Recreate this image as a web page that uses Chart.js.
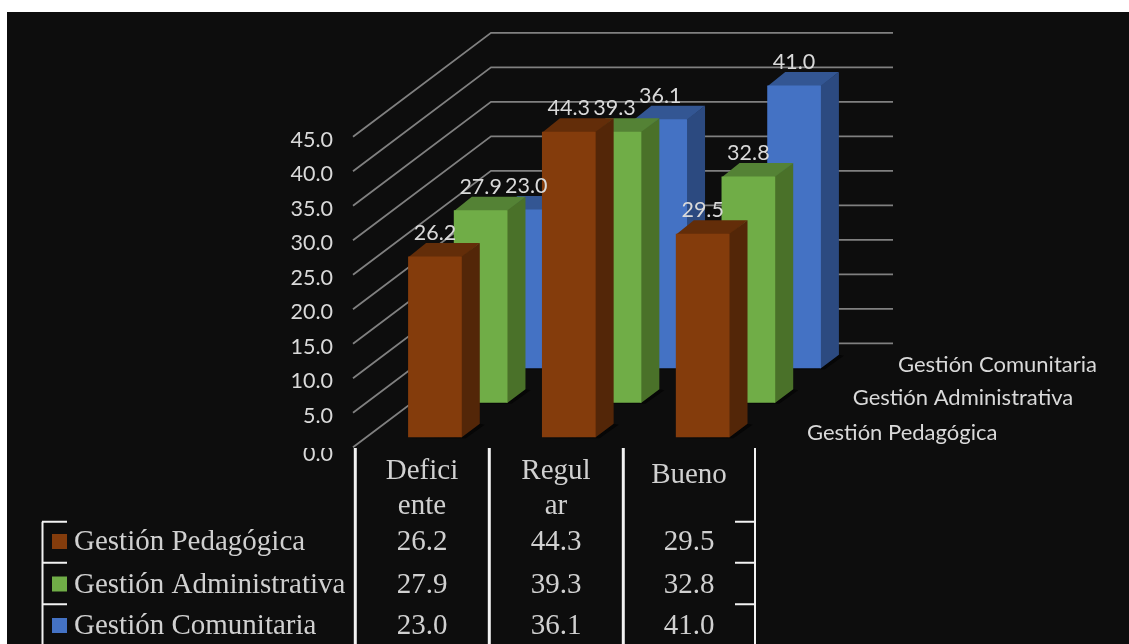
<!DOCTYPE html>
<html>
<head>
<meta charset="utf-8">
<style>
  html, body { margin: 0; padding: 0; background: #ffffff; overflow: hidden; }
  canvas { display: block; }
</style>
<script src="https://cdn.jsdelivr.net/npm/chart.js@4"></script>
</head>
<body>
<canvas id="chart" width="1129" height="644"></canvas>
<script>
// Data
const categories = [['Defici', 'ente'], ['Regul', 'ar'], ['Bueno']];
const seriesNames = ['Gestión Pedagógica', 'Gestión Administrativa', 'Gestión Comunitaria'];
const pedagogica = [26.2, 44.3, 29.5];
const administrativa = [27.9, 39.3, 32.8];
const comunitaria = [23.0, 36.1, 41.0];
const yTickStep = 5;
const yMax = 45;

// Colours: front, top and side face of the bars
const frontColors = ['#843C0C', '#70AD47', '#4472C4'];
const topColors = ['#632D09', '#548235', '#335693'];
const sideColors = ['#532608', '#4A7129', '#2C4A80'];

const textColor = '#D9D9D9';
const tableColor = '#D0D0D0';
const sansFont = 'Lato, "Open Sans", sans-serif';
const serifFont = '"Liberation Serif", serif';

// 3D look: every series sits one step further back
const stepX = 45.7, stepY = -34.5;
const sideX = 18, sideY = -13.5;

function poly(ctx, pts, color) {
    ctx.fillStyle = color;
    ctx.beginPath();
    pts.forEach((p, i) => i ? ctx.lineTo(p[0], p[1]) : ctx.moveTo(p[0], p[1]));
    ctx.closePath();
    ctx.fill();
}

const bars3d = {
    id: 'bars3d',
    beforeDraw(chart) {
        const ctx = chart.ctx;
        ctx.save();
        ctx.fillStyle = '#0D0D0D';
        ctx.fillRect(7, 12, 1122, 632);
        ctx.restore();
    },
    // walls and tick labels
    beforeDatasetsDraw(chart) {
        const ctx = chart.ctx, y = chart.scales.y;
        ctx.save();
        ctx.strokeStyle = '#808080';
        ctx.lineWidth = 1.8;
        y.ticks.forEach(t => {
            const py = y.getPixelForValue(t.value);
            ctx.beginPath();
            ctx.moveTo(353, py + 10);
            ctx.lineTo(491, py - 94);
            ctx.lineTo(893, py - 94);
            ctx.stroke();
        });
        ctx.fillStyle = textColor;
        ctx.font = '21.5px ' + sansFont;
        ctx.textAlign = 'right';
        ctx.textBaseline = 'alphabetic';
        y.ticks.forEach(t => {
            const py = y.getPixelForValue(t.value);
            if (t.value === 0) {
                // the 0.0 label is cut off at the top in the original
                ctx.save();
                ctx.beginPath();
                ctx.rect(280, 448, 80, 20);
                ctx.clip();
                ctx.fillText(t.value.toFixed(1), 333, py + 24);
                ctx.restore();
            } else {
                ctx.fillText(t.value.toFixed(1), 333, py + 20);
            }
        });
        ctx.restore();
    },
    beforeDatasetDraw(chart, args) {
        const ctx = chart.ctx, i = args.index;
        ctx.save();
        ctx.translate(stepX * i, stepY * i);
        args.meta.data.forEach(el => {
            const r = el.x + el.width / 2, l = el.x - el.width / 2;
            poly(ctx, [[r, el.base], [r + sideX, el.base + sideY], [r + sideX + 5, el.base + sideY + 1], [r + 4, el.base + 1], [l, el.base + 1]], '#060606');
            // faces reach a pixel under the front rectangle so no seam shows
            poly(ctx, [[l, el.y + 1], [r, el.y + 1], [r + sideX, el.y + sideY], [l + sideX, el.y + sideY]], topColors[i]);
            poly(ctx, [[r - 1, el.y], [r, el.y], [r + sideX, el.y + sideY], [r + sideX, el.base + sideY], [r, el.base], [r - 1, el.base]], sideColors[i]);
        });
    },
    afterDatasetDraw(chart) {
        chart.ctx.restore();
    },
    // value labels, depth labels and the data table
    afterDatasetsDraw(chart) {
        const ctx = chart.ctx;
        ctx.save();
        ctx.textBaseline = 'alphabetic';
        ctx.fillStyle = textColor;
        ctx.font = '21.5px ' + sansFont;
        ctx.textAlign = 'center';
        chart.data.datasets.forEach((ds, i) => {
            chart.getDatasetMeta(i).data.forEach((el, j) => {
                ctx.fillText(ds.data[j].toFixed(1), el.x + stepX * i, el.y + stepY * i + sideY - 3);
            });
        });

        ctx.font = '22px ' + sansFont;
        ctx.textAlign = 'left';
        const depthX = [807, 852.7, 898];
        const depthY = [440, 405, 371.7];
        seriesNames.forEach((name, i) => ctx.fillText(name, depthX[i], depthY[i]));

        drawTable(chart);
        ctx.restore();
    }
};

function drawTable(chart) {
    const ctx = chart.ctx;
    const colX = [355.3, 489.3, 623.3, 755];
    const rowY = [521.7, 562.7, 604.3];
    const baseY = [550, 592.5, 634];
    const bottom = 644;

    ctx.strokeStyle = '#F2F2F2';
    colX.forEach((x, i) => {
        ctx.lineWidth = i === 3 ? 2 : 3;
        ctx.beginPath();
        ctx.moveTo(x, 448);
        ctx.lineTo(x, bottom);
        ctx.stroke();
    });
    ctx.lineWidth = 2;
    ctx.beginPath();
    ctx.moveTo(42.5, rowY[0]);
    ctx.lineTo(42.5, bottom);
    rowY.forEach(y => {
        ctx.moveTo(42, y);
        ctx.lineTo(67, y);
        ctx.moveTo(735, y);
        ctx.lineTo(755, y);
    });
    ctx.stroke();

    ctx.font = '29px ' + serifFont;
    ctx.fillStyle = tableColor;
    ctx.textAlign = 'center';
    const centers = [422, 556, 689];
    const headY = [[479, 513.5], [479, 513.5], [482.5]];
    categories.forEach((lines, j) => {
        lines.forEach((line, k) => ctx.fillText(line, centers[j], headY[j][k]));
    });

    chart.data.datasets.forEach((ds, i) => {
        ctx.fillStyle = frontColors[i];
        ctx.fillRect(52, baseY[i] - 16, 15, 15);
        ctx.fillStyle = tableColor;
        ctx.textAlign = 'left';
        ctx.fillText(seriesNames[i], 74, baseY[i]);
        ctx.textAlign = 'center';
        ds.data.forEach((v, j) => ctx.fillText(v.toFixed(1), centers[j], baseY[i]));
    });
}

const seriesValues = [pedagogica, administrativa, comunitaria];

new Chart(document.getElementById('chart'), {
    type: 'bar',
    data: {
        labels: categories,
        datasets: seriesValues.map((values, i) => ({
            label: seriesNames[i],
            data: values,
            backgroundColor: frontColors[i],
            borderWidth: 0,
            clip: false
        }))
    },
    options: {
        responsive: false,
        animation: false,
        layout: { padding: { left: 368, right: 359.4, top: 126.8, bottom: 206.7 } },
        datasets: { bar: { grouped: false, categoryPercentage: 1, barPercentage: 0.401 } },
        plugins: { legend: { display: false }, tooltip: { enabled: false } },
        scales: {
            x: { display: false },
            y: { display: false, min: 0, max: yMax, ticks: { stepSize: yTickStep } }
        }
    },
    plugins: [bars3d]
});
</script>
</body>
</html>
